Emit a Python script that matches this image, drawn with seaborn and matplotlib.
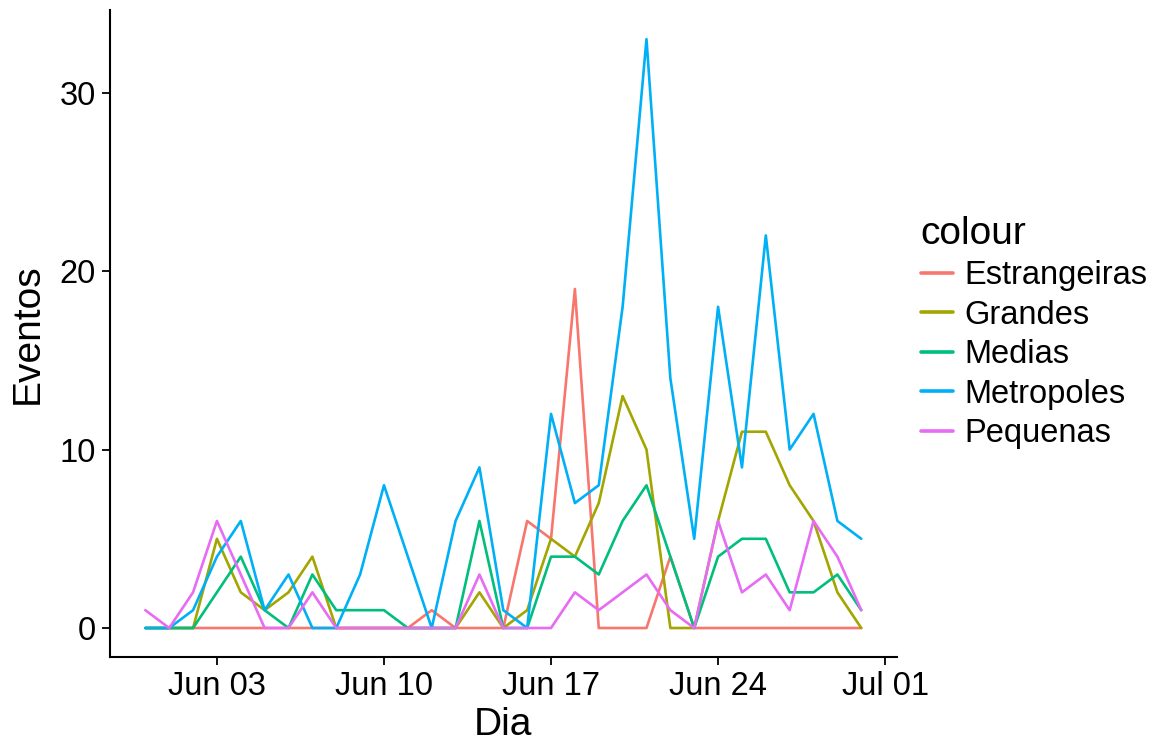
import matplotlib
matplotlib.use("Agg")
import matplotlib.pyplot as plt
import matplotlib.dates as mdates
import pandas as pd
import seaborn as sns

# Daily counts, May 31 .. Jun 30
days = pd.date_range("2016-05-31", "2016-06-30", freq="D")

estrangeiras = [0, 0, 0, 0, 0, 0, 0, 0, 0, 0, 0, 0, 1, 0, 0, 0, 6, 5, 19, 0, 0, 0, 4, 0, 0, 0, 0, 0, 0, 0, 0]
grandes = [0, 0, 0, 5, 2, 1, 2, 4, 0, 0, 0, 0, 0, 0, 2, 0, 1, 5, 4, 7, 13, 10, 0, 0, 6, 11, 11, 8, 6, 2, 0]
medias = [0, 0, 0, 2, 4, 1, 0, 3, 1, 1, 1, 0, 0, 0, 6, 0, 0, 4, 4, 3, 6, 8, 4, 0, 4, 5, 5, 2, 2, 3, 1]
metropoles = [0, 0, 1, 4, 6, 1, 3, 0, 0, 3, 8, 4, 0, 6, 9, 1, 0, 12, 7, 8, 18, 33, 14, 5, 18, 9, 22, 10, 12, 6, 5]
pequenas = [1, 0, 2, 6, 3, 0, 0, 2, 0, 0, 0, 0, 0, 0, 3, 0, 0, 0, 2, 1, 2, 3, 1, 0, 6, 2, 3, 1, 6, 4, 1]

groups = ["Estrangeiras", "Grandes", "Medias", "Metropoles", "Pequenas"]
colors = ["#F8766D", "#A3A500", "#00BF7D", "#00B0F6", "#E76BF3"]

tick_dates = pd.to_datetime(["2016-06-03", "2016-06-10", "2016-06-17", "2016-06-24", "2016-07-01"])
y_ticks = [0, 10, 20, 30]

frames = []
for name, vals in zip(groups, [estrangeiras, grandes, medias, metropoles, pequenas]):
    frames.append(pd.DataFrame({"Dia": days, "Eventos": vals, "colour": name}))
df = pd.concat(frames, ignore_index=True)

sns.set_theme(style="ticks")
plt.rcParams["font.family"] = ["Liberation Sans", "DejaVu Sans"]
plt.rcParams["text.color"] = "black"
plt.rcParams["axes.labelcolor"] = "black"

fig = plt.figure(figsize=(11.59, 7.44), dpi=100)
ax = fig.add_axes([0.0945, 0.1163, 0.774 - 0.0945, 0.987 - 0.1163])

sns.lineplot(
    data=df, x="Dia", y="Eventos", hue="colour",
    hue_order=groups, palette=dict(zip(groups, colors)),
    linewidth=1.9, ax=ax, legend=True,
)

span = days[-1] - days[0]
ax.set_xlim(days[0] - span * 0.05, days[-1] + span * 0.05)
ax.set_ylim(-33 * 0.05, 33 * 1.05)
ax.set_xticks(tick_dates)
ax.xaxis.set_major_formatter(mdates.DateFormatter("%b %d"))
ax.set_yticks(y_ticks)

for side in ["top", "right"]:
    ax.spines[side].set_visible(False)
for side in ["left", "bottom"]:
    ax.spines[side].set_linewidth(1.5)
    ax.spines[side].set_color("black")
ax.tick_params(axis="both", length=6, width=1.3, colors="black", labelsize=23.5, pad=4)

ax.set_xlabel("Dia", fontsize=28, labelpad=3)
ax.set_ylabel("Eventos", fontsize=28, labelpad=9.5)

handles, labels = ax.get_legend_handles_labels()
leg = ax.legend(
    handles, labels, title="colour", loc="center left",
    bbox_to_anchor=(0.769, 0.553), bbox_transform=fig.transFigure,
    frameon=False, fontsize=23.5, title_fontsize=28,
    handlelength=1.0, handletextpad=0.35, labelspacing=0.26,
    alignment="left",
)
for line in leg.get_lines():
    line.set_linewidth(2.6)

fig.savefig("out.png", dpi=100)
